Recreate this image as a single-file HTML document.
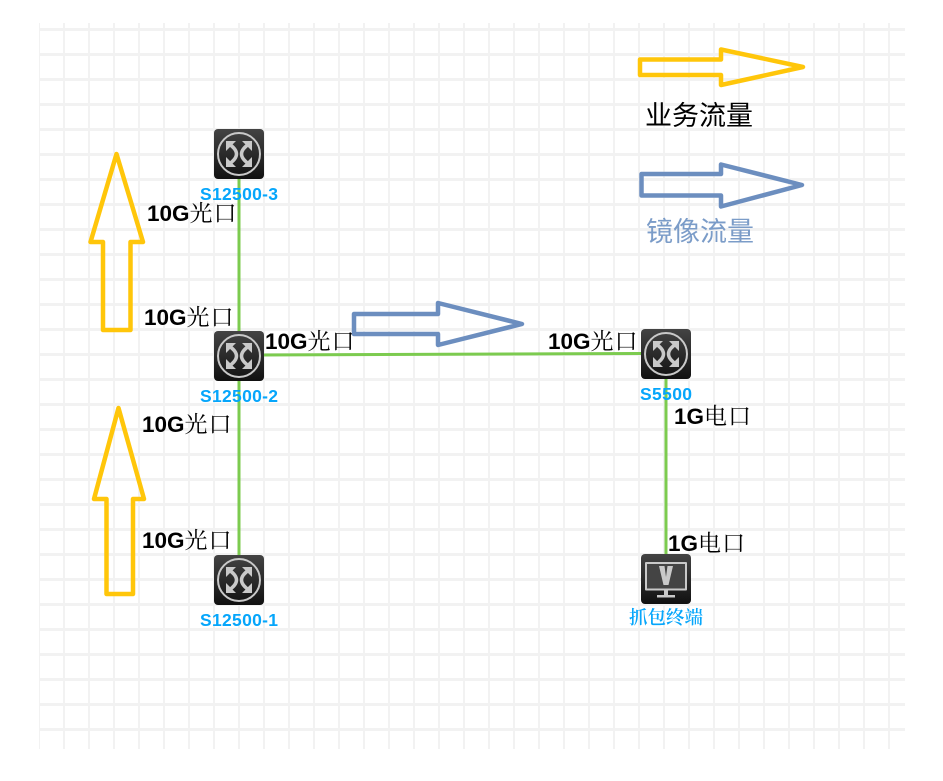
<!DOCTYPE html>
<html><head><meta charset="utf-8"><style>
html,body{margin:0;padding:0;background:#fff;width:943px;height:781px;overflow:hidden}
svg{display:block}
.l{font-family:"Liberation Sans","Noto Serif CJK SC",serif;font-size:22.5px;fill:#000}
.l tspan.b{font-weight:bold}
.l tspan.c{font-family:"Noto Serif CJK SC","Liberation Serif",serif;font-size:23px;letter-spacing:1px}
.n{font-family:"Liberation Sans",sans-serif;font-weight:bold;font-size:17.5px;fill:#06a6fb}
.t{font-family:"Liberation Sans","Noto Sans CJK SC",sans-serif;font-size:27px}
</style></head><body>
<svg width="943" height="781" viewBox="0 0 943 781" xmlns="http://www.w3.org/2000/svg">
<defs>
<linearGradient id="g" x1="0" y1="0" x2="0" y2="1"><stop offset="0" stop-color="#444"/><stop offset="1" stop-color="#111"/></linearGradient>
<g id="sw">
<rect x="0" y="0" width="50" height="50" rx="4" fill="url(#g)"/>
<circle cx="25" cy="25" r="21" fill="none" stroke="#c9c9c9" stroke-width="2"/>
<g fill="none" stroke="#c9c9c9" stroke-width="3.500">
<path d="M15 15 Q30 25 15 35"/>
<path d="M35 15 Q20 25 35 35"/>
</g>
<g fill="#c9c9c9">
<path d="M12 12H22L12 22Z"/><path d="M38 12H28L38 22Z"/><path d="M12 38H22L12 28Z"/><path d="M38 38H28L38 28Z"/>
</g>
</g>
</defs>
<g fill="#f2f2f2">
<rect x="39" y="23" width="1" height="726"/>
<rect x="63" y="23" width="2" height="726"/><rect x="88" y="23" width="2" height="726"/><rect x="113" y="23" width="2" height="726"/><rect x="138" y="23" width="2" height="726"/><rect x="163" y="23" width="2" height="726"/><rect x="188" y="23" width="2" height="726"/><rect x="213" y="23" width="2" height="726"/><rect x="238" y="23" width="2" height="726"/><rect x="263" y="23" width="2" height="726"/><rect x="288" y="23" width="2" height="726"/><rect x="313" y="23" width="2" height="726"/><rect x="338" y="23" width="2" height="726"/><rect x="363" y="23" width="2" height="726"/><rect x="388" y="23" width="2" height="726"/><rect x="413" y="23" width="2" height="726"/><rect x="438" y="23" width="2" height="726"/><rect x="463" y="23" width="2" height="726"/><rect x="488" y="23" width="2" height="726"/><rect x="513" y="23" width="2" height="726"/><rect x="538" y="23" width="2" height="726"/><rect x="563" y="23" width="2" height="726"/><rect x="588" y="23" width="2" height="726"/><rect x="613" y="23" width="2" height="726"/><rect x="638" y="23" width="2" height="726"/><rect x="663" y="23" width="2" height="726"/><rect x="688" y="23" width="2" height="726"/><rect x="713" y="23" width="2" height="726"/><rect x="738" y="23" width="2" height="726"/><rect x="763" y="23" width="2" height="726"/><rect x="788" y="23" width="2" height="726"/><rect x="813" y="23" width="2" height="726"/><rect x="838" y="23" width="2" height="726"/><rect x="863" y="23" width="2" height="726"/><rect x="888" y="23" width="2" height="726"/>
<rect x="39" y="28" width="866" height="3"/><rect x="39" y="53" width="866" height="3"/><rect x="39" y="78" width="866" height="3"/><rect x="39" y="103" width="866" height="3"/><rect x="39" y="128" width="866" height="3"/><rect x="39" y="153" width="866" height="3"/><rect x="39" y="178" width="866" height="3"/><rect x="39" y="203" width="866" height="3"/><rect x="39" y="228" width="866" height="3"/><rect x="39" y="253" width="866" height="3"/><rect x="39" y="278" width="866" height="3"/><rect x="39" y="303" width="866" height="3"/><rect x="39" y="328" width="866" height="3"/><rect x="39" y="353" width="866" height="3"/><rect x="39" y="378" width="866" height="3"/><rect x="39" y="403" width="866" height="3"/><rect x="39" y="428" width="866" height="3"/><rect x="39" y="453" width="866" height="3"/><rect x="39" y="478" width="866" height="3"/><rect x="39" y="503" width="866" height="3"/><rect x="39" y="528" width="866" height="3"/><rect x="39" y="553" width="866" height="3"/><rect x="39" y="578" width="866" height="3"/><rect x="39" y="603" width="866" height="3"/><rect x="39" y="628" width="866" height="3"/><rect x="39" y="653" width="866" height="3"/><rect x="39" y="678" width="866" height="3"/><rect x="39" y="703" width="866" height="3"/><rect x="39" y="728" width="866" height="3"/>
</g>
<g stroke="#7ccb4f" stroke-width="3" fill="none">
<path d="M239 170V560"/><path d="M260 355L645 353.5"/><path d="M666 375V560"/>
</g>
<g fill="none" stroke-linejoin="round" stroke-width="4.5">
<path d="M640 59.5H721V49.5L803 67L721 85V75H640Z" stroke="#ffc60a"/>
<path d="M641.5 174H721V164.5L802 185L721 206.500V195.500H641.5Z" stroke="#6c8ebf"/>
<path d="M354 314H438V303L522 324L438 345V334H354Z" stroke="#6c8ebf"/>
<path d="M103 330V242H90.500L116.500 154L143 242H130.500V330Z" stroke="#ffc60a"/>
<path d="M106.500 594V499H94L118.500 408L144 499H133V594Z" stroke="#ffc60a"/>
</g>
<use href="#sw" x="214" y="129"/>
<use href="#sw" x="214" y="331"/>
<use href="#sw" x="214" y="555"/>
<use href="#sw" x="641" y="329"/>
<rect x="641" y="554" width="50" height="50" rx="4" fill="url(#g)"/>
<rect x="645" y="562" width="42" height="28.500" rx="1" fill="#c9c9c9"/>
<rect x="647" y="564" width="38" height="24.500" fill="#444"/>
<path d="M659 566H664.500L666 577L667.500 566H673L668.500 585H663.500Z" fill="#c9c9c9"/>
<rect x="664" y="590" width="4" height="5" fill="#c9c9c9"/>
<rect x="657" y="595" width="18" height="2.500" fill="#c9c9c9"/>
<text class="l" x="147" y="221"><tspan class="b">10G</tspan><tspan class="c">光口</tspan></text>
<text class="l" x="144" y="325"><tspan class="b">10G</tspan><tspan class="c">光口</tspan></text>
<text class="l" x="265" y="349"><tspan class="b">10G</tspan><tspan class="c">光口</tspan></text>
<text class="l" x="548" y="349"><tspan class="b">10G</tspan><tspan class="c">光口</tspan></text>
<text class="l" x="142" y="432"><tspan class="b">10G</tspan><tspan class="c">光口</tspan></text>
<text class="l" x="142" y="548"><tspan class="b">10G</tspan><tspan class="c">光口</tspan></text>
<text class="l" x="674" y="424"><tspan class="b">1G</tspan><tspan class="c">电口</tspan></text>
<text class="l" x="668" y="551"><tspan class="b">1G</tspan><tspan class="c">电口</tspan></text>
<text class="n" x="200" y="200" textLength="78">S12500-3</text>
<text class="n" x="200" y="402" textLength="78">S12500-2</text>
<text class="n" x="200" y="626" textLength="78">S12500-1</text>
<text class="n" x="640" y="400" textLength="52">S5500</text>
<text x="629" y="624" font-family="Noto Serif CJK SC,serif" font-size="18.500" font-weight="600" fill="#06a6fb">抓包终端</text>
<text class="t" x="645" y="125" fill="#000">业务流量</text>
<text class="t" x="646" y="241" fill="#7b9cc8">镜像流量</text>
</svg>
</body></html>
